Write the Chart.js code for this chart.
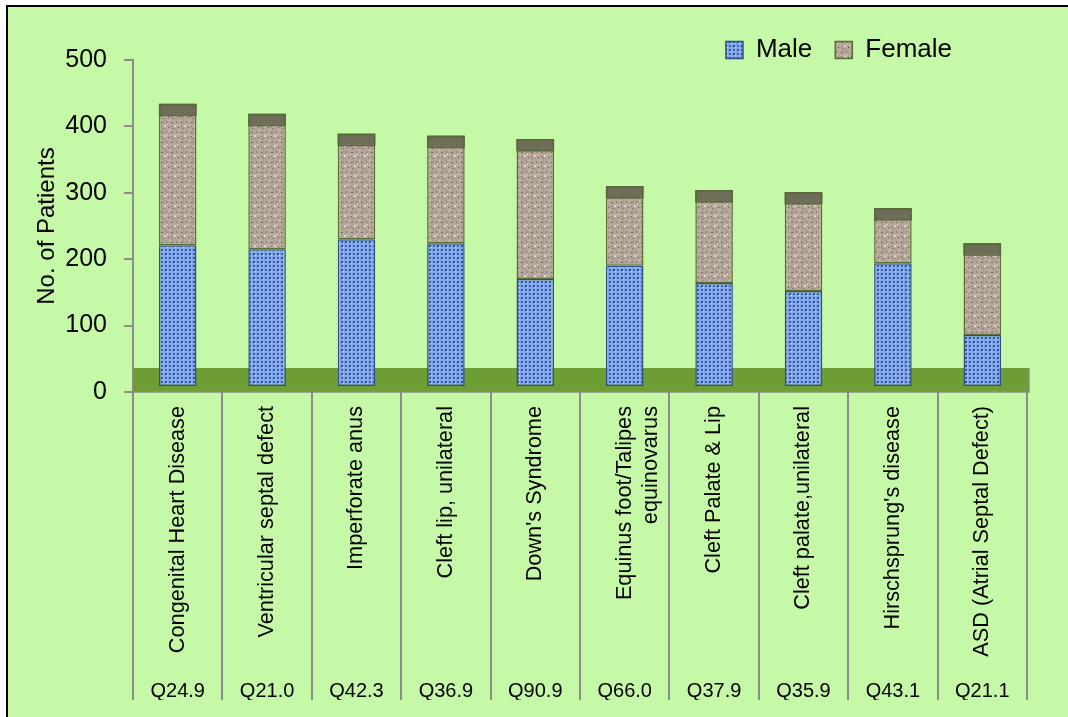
<!DOCTYPE html>
<html>
<head>
<meta charset="utf-8">
<script src="https://cdn.jsdelivr.net/npm/chart.js@4/dist/chart.umd.min.js"></script>
<style>
html,body{margin:0;padding:0;background:#ffffff;}
canvas{display:block;}
</style>
</head>
<body>
<canvas id="c" width="1068" height="717"></canvas>
<script>
// ---- data ----
const categories = [
  "Congenital Heart Disease",
  "Ventricular septal defect",
  "Imperforate anus",
  "Cleft lip, unilateral",
  "Down's Syndrome",
  ["Equinus foot/Talipes", "equinovarus"],
  "Cleft Palate & Lip",
  "Cleft palate,unilateral",
  "Hirschsprung's disease",
  "ASD (Atrial Septal Defect)"
];
const codes = ["Q24.9", "Q21.0", "Q42.3", "Q36.9", "Q90.9", "Q66.0", "Q37.9", "Q35.9", "Q43.1", "Q21.1"];
const maleValues = [221, 215, 230, 224, 170, 190, 164, 152, 194, 86];
const femaleValues = [213, 204, 159, 162, 211, 120, 140, 149, 83, 138];
const seriesNames = ["Male", "Female"];
const yMin = 0, yMax = 500, yStep = 100;
const yTitle = "No. of Patients";

// ---- textures ----
function makePattern(size, base, specks) {
  const c = document.createElement('canvas');
  c.width = size; c.height = size;
  const g = c.getContext('2d');
  g.fillStyle = base; g.fillRect(0, 0, size, size);
  specks.forEach(s => { g.fillStyle = s[4]; g.fillRect(s[0], s[1], s[2], s[3]); });
  return g.createPattern(c, 'repeat');
}
const ctx = document.getElementById('c').getContext('2d');
const malePattern = makePattern(8, '#86a8ea', [
  [1,1,2,2,'#2a55a2'], [5,1,2,2,'#3b66b2'], [1,5,2,2,'#3b66b2'], [5,5,2,2,'#2a55a2'],
  [3,3,1,1,'#cbdcfc'], [7,7,1,1,'#cbdcfc'], [3,7,1,1,'#a8c2f4'], [7,3,1,1,'#a8c2f4'],
  [0,3,1,1,'#5f86cc'], [4,7,1,1,'#5f86cc']
]);
const femalePattern = makePattern(10, '#b5a69a', [
  [1,2,2,1,'#76685f'], [6,1,1,2,'#8a7d74'], [4,5,2,2,'#ddd4cc'], [8,7,1,1,'#5a4e47'],
  [2,8,2,1,'#8f8279'], [7,4,1,1,'#e6ded6'], [0,5,1,1,'#d0c6bd'], [5,8,1,1,'#9c8e84'],
  [9,0,1,1,'#d8cfc7'], [3,0,1,1,'#a08f84'], [1,6,1,1,'#6d6058']
]);

Chart.defaults.font.family = "'Liberation Sans', Arial, sans-serif";
Chart.defaults.color = '#000000';

const bgPlugin = {
  id: 'bg',
  beforeDraw(chart) {
    const c = chart.ctx;
    c.save();
    c.fillStyle = '#ffffff';
    c.fillRect(0, 0, chart.width, chart.height);
    c.fillStyle = '#c5f8a7';
    c.fillRect(7, 6, chart.width - 7, chart.height - 6);
    c.strokeStyle = '#000000';
    c.lineWidth = 2;
    c.beginPath();
    c.moveTo(7, chart.height); c.lineTo(7, 6); c.lineTo(chart.width, 6);
    c.stroke();
    c.restore();
  },
  beforeDatasetsDraw(chart) {
    const c = chart.ctx, a = chart.chartArea;
    c.save();
    c.fillStyle = '#6f9d35';
    c.fillRect(a.left, a.bottom - 24, a.right - a.left + 2, 24);
    c.strokeStyle = '#8a8f80';
    c.lineWidth = 1.5;
    c.beginPath();
    c.moveTo(a.left, a.bottom); c.lineTo(a.right + 2, a.bottom); c.lineTo(a.right + 2, a.bottom - 24);
    c.stroke();
    c.restore();
  },
  afterDatasetsDraw(chart) {
    // darker 3-D style cap on top of each stacked bar
    const meta = chart.getDatasetMeta(1);
    const c = chart.ctx;
    c.save();
    meta.data.forEach(bar => {
      const w = bar.width;
      c.fillStyle = '#6e6d58';
      c.fillRect(bar.x - w / 2, bar.y, w, 11);
      c.strokeStyle = '#56683a';
      c.lineWidth = 1.5;
      c.strokeRect(bar.x - w / 2 + 0.75, bar.y + 0.75, w - 1.5, 11);
    });
    c.restore();
  },
  afterDraw(chart) {
    const c = chart.ctx, a = chart.chartArea;
    const xs = chart.scales.x, x2 = chart.scales.x2;
    const n = categories.length;
    const step = (xs.right - xs.left) / n;
    c.save();
    c.strokeStyle = '#8c8c8c';
    c.lineWidth = 2;
    c.beginPath();
    for (let i = 0; i <= n; i++) {
      const px = Math.round(xs.left + i * step);
      c.moveTo(px, a.bottom);
      c.lineTo(px, x2.bottom);
    }
    c.stroke();
    c.restore();
  }
};

const legendShift = {
  id: 'legendShift',
  afterLayout(chart) {
    const lg = chart.legend;
    if (!lg) return;
    const dx = (952 + 23) - lg.right;
    const dy = 13;
    lg.left += dx; lg.right += dx;
    lg.top += dy; lg.bottom += dy;
  }
};

new Chart(ctx, {
  type: 'bar',
  data: {
    labels: categories,
    datasets: [
      {
        label: seriesNames[0],
        data: maleValues,
        backgroundColor: malePattern,
        borderColor: '#2d4f86',
        borderWidth: 1.5,
        borderSkipped: false,
        base: 9
      },
      {
        label: seriesNames[1],
        data: femaleValues,
        backgroundColor: femalePattern,
        borderColor: '#5a6c38',
        borderWidth: 1.5,
        borderSkipped: false
      }
    ]
  },
  options: {
    responsive: false,
    animation: false,
    devicePixelRatio: 1,
    layout: { padding: { top: 1, left: 18, right: 41, bottom: 17 } },
    datasets: { bar: { categoryPercentage: 1.0, barPercentage: 0.42 } },
    plugins: {
      legend: {
        position: 'top',
        align: 'end',
        labels: {
          boxWidth: 17,
          boxHeight: 17,
          padding: 23,
          font: { size: 26 },
          color: '#000000'
        }
      },
      tooltip: { enabled: false }
    },
    scales: {
      x: {
        stacked: true,
        position: 'bottom',
        weight: 0,
        grid: { display: false },
        border: { display: false },
        ticks: {
          minRotation: 90,
          maxRotation: 90,
          autoSkip: false,
          padding: 6,
          font: { size: 21.7 },
          color: '#000000'
        },
        afterFit(scale) { scale.height = 273; }
      },
      x2: {
        type: 'category',
        labels: codes,
        position: 'bottom',
        weight: 1,
        offset: true,
        grid: { display: false },
        border: { display: false },
        ticks: {
          maxRotation: 0,
          minRotation: 0,
          autoSkip: false,
          padding: 6,
          font: { size: 20 },
          color: '#000000'
        },
        afterFit(scale) { scale.height = 35; }
      },
      y: {
        stacked: true,
        min: yMin,
        max: yMax,
        ticks: {
          stepSize: yStep,
          padding: 17,
          font: { size: 25 },
          color: '#000000'
        },
        grid: {
          drawOnChartArea: false,
          drawTicks: true,
          tickLength: 9,
          color: '#8c8c8c',
          lineWidth: 2
        },
        border: { display: true, color: '#8c8c8c', width: 2 },
        title: {
          display: true,
          text: yTitle,
          font: { size: 24 },
          color: '#000000',
          padding: { top: 15, bottom: 0 }
        },
        afterFit(scale) { scale.width = 115; }
      }
    }
  },
  plugins: [bgPlugin, legendShift]
});
</script>
</body>
</html>
